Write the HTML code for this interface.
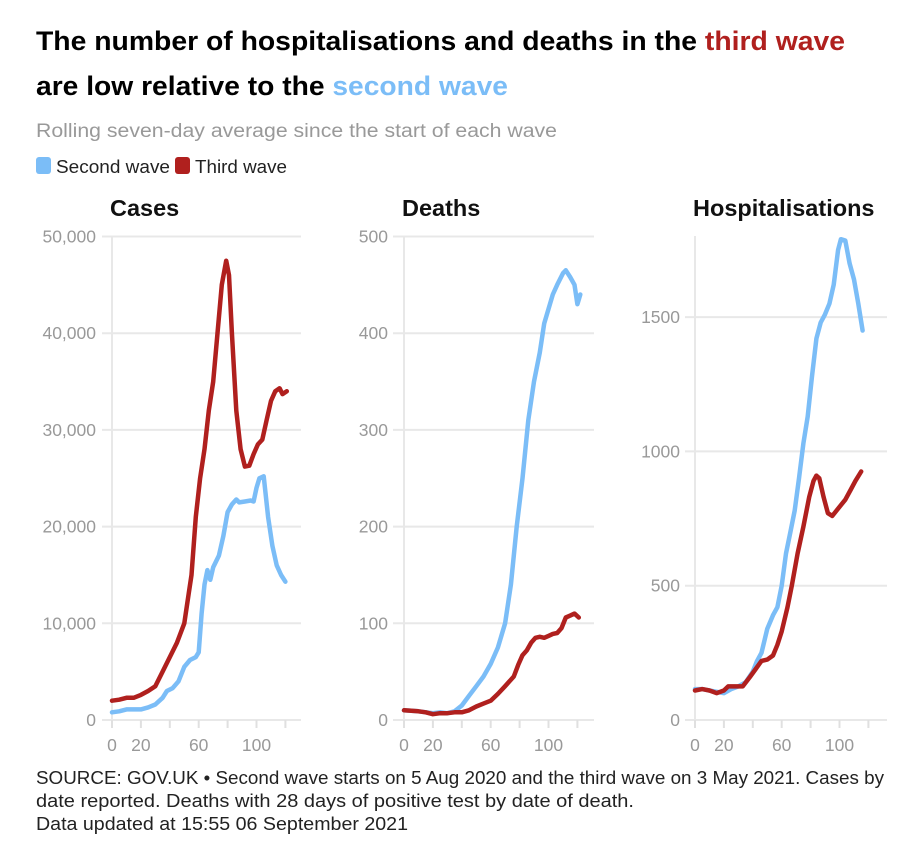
<!DOCTYPE html>
<html><head><meta charset="utf-8"><style>
body{margin:0;background:#fff;font-family:"Liberation Sans",sans-serif;}
svg text{font-family:"Liberation Sans",sans-serif;}
</style></head><body>
<svg id="c" width="924" height="862" xmlns="http://www.w3.org/2000/svg">
<text x="36" y="50" font-size="27" font-weight="bold" fill="#000" textLength="809" lengthAdjust="spacingAndGlyphs">The number of hospitalisations and deaths in the <tspan fill="#b0201e">third wave</tspan></text>
<text x="36" y="95" font-size="27" font-weight="bold" fill="#000" textLength="472" lengthAdjust="spacingAndGlyphs">are low relative to the <tspan fill="#7bbdf7">second wave</tspan></text>
<text x="36" y="137" font-size="19" fill="#999" textLength="521" lengthAdjust="spacingAndGlyphs">Rolling seven-day average since the start of each wave</text>
<g>
<rect x="36" y="157" width="15" height="17" rx="3" fill="#7bbdf7"/>
<text x="56" y="173" font-size="18" fill="#222" textLength="114" lengthAdjust="spacingAndGlyphs">Second wave</text>
<rect x="175" y="157" width="15" height="17" rx="3" fill="#b0201e"/>
<text x="195" y="173" font-size="18" fill="#222" textLength="92" lengthAdjust="spacingAndGlyphs">Third wave</text>
</g>
<text x="36" y="784" font-size="18" fill="#222" textLength="848" lengthAdjust="spacingAndGlyphs">SOURCE: GOV.UK • Second wave starts on 5 Aug 2020 and the third wave on 3 May 2021. Cases by</text>
<text x="36" y="807" font-size="18" fill="#222" textLength="598" lengthAdjust="spacingAndGlyphs">date reported. Deaths with 28 days of positive test by date of death.</text>
<text x="36" y="830" font-size="18" fill="#222" textLength="372" lengthAdjust="spacingAndGlyphs">Data updated at 15:55 06 September 2021</text>
</svg>
<script>
const casesSecondX=[0,5,10,20,25,30,35,38,42,46,50,54,58,60,62,64,66,68,70,74,77,80,83,86,88,92,96,98,100,102,105,108,111,114,117,120];
const casesSecondY=[0.8,0.9,1.1,1.1,1.3,1.6,2.3,3,3.3,4,5.5,6.2,6.5,7,11,14,15.5,14.5,15.8,17,19,21.5,22.3,22.8,22.5,22.6,22.7,22.6,24,25,25.2,21,18,16,15,14.3];
const casesThirdX=[0,5,10,15,20,25,30,35,40,45,50,53,55,58,61,64,67,70,73,76,79,81,83,86,89,92,95,98,101,104,107,110,113,116,118,121];
const casesThirdY=[2,2.1,2.3,2.3,2.6,3,3.5,5,6.5,8,10,13,15,21,25,28,32,35,40,45,47.5,46,40,32,28,26.2,26.3,27.5,28.5,29,31,33,34,34.3,33.7,34];
const deathsSecondX=[0,10,20,25,30,35,40,45,50,55,60,65,70,74,78,82,86,90,94,97,100,103,106,110,112,115,118,120,122];
const deathsSecondY=[10,9,7,8,7,9,15,25,35,45,58,75,100,140,200,250,310,350,380,410,425,440,450,462,465,458,450,430,440];
const deathsThirdX=[0,10,15,20,25,30,35,40,45,50,55,60,65,70,73,76,79,82,85,88,91,94,97,100,103,106,109,112,115,118,121];
const deathsThirdY=[10,9,8,6,7,7,8,8,10,14,17,20,27,35,40,45,57,67,72,80,85,86,85,87,89,90,95,106,108,110,106];
const hospSecondX=[0,5,10,15,20,25,30,35,40,43,46,50,54,57,60,63,66,69,72,75,78,81,84,87,90,93,96,99,101,104,107,110,113,116];
const hospSecondY=[115,115,110,105,100,115,125,140,180,220,250,340,390,420,500,620,700,780,900,1030,1130,1280,1420,1480,1510,1550,1620,1750,1790,1785,1700,1640,1550,1450];
const hospThirdX=[0,5,10,15,20,23,28,33,38,42,46,50,54,57,60,64,67,71,75,79,82,84,86,89,92,95,98,101,104,108,111,115];
const hospThirdY=[110,115,110,100,110,125,125,125,160,190,220,225,240,280,330,420,500,620,720,830,890,910,900,830,770,760,780,800,820,860,890,925];
const casesTicks=[0,10000,20000,30000,40000,50000];
const casesTickLabels=["0","10,000","20,000","30,000","40,000","50,000"];
const deathsTicks=[0,100,200,300,400,500];
const hospTicks=[0,500,1000,1500];
const xTicks=[0,20,40,60,80,100,120];
const xTickLabels=["0","20","","60","","100",""];
const panelTitles=["Cases","Deaths","Hospitalisations"];

const svg=document.getElementById('c');
const NS='http://www.w3.org/2000/svg';
function mk(tag,attrs,parent){const e=document.createElementNS(NS,tag);for(const k in attrs)e.setAttribute(k,attrs[k]);(parent||svg).appendChild(e);return e;}
const BLUE='#7bbdf7',RED='#b0201e';
function panel(cfg){
  const g=mk('g',{});
  
  
  const xs=d=>cfg.x0+d*1.445;
  const ys=v=>720-(v/cfg.ymax)*(720-236.5);
  cfg.ticks.forEach((t,i)=>{
    const y=ys(t);
    const l=mk('line',{x1:cfg.gx0,x2:cfg.gx1,y1:y,y2:y,stroke:'#e8e8e8','stroke-width':2},g);
    
    
    const tx=mk('text',{x:cfg.labelRight,y:y+6,'font-size':17.5,fill:'#999','text-anchor':'end'},g);
    tx.textContent=cfg.labels[i];
    
    
  });
  const ax=mk('line',{x1:cfg.x0,x2:cfg.x0,y1:236,y2:720,stroke:'#e8e8e8','stroke-width':2},g);
  
  
  xTicks.forEach((t,i)=>{
    const x=xs(t);
    const tk=mk('line',{x1:x,x2:x,y1:720,y2:728,stroke:'#e0e0e0','stroke-width':2},g);
    
    
    if(xTickLabels[i]){
      const tx=mk('text',{x:x,y:751,'font-size':17.5,fill:'#999','text-anchor':'middle'},g);
      tx.textContent=xTickLabels[i];
      
      
    }
  });
  const tt=mk('text',{x:cfg.titleX,y:216,'font-size':23.5,'font-weight':'bold',fill:'#111'},g);
  tt.textContent=cfg.title;
  
  
  [[cfg.bx,cfg.by,BLUE,'second-wave-line'],[cfg.rx,cfg.ry,RED,'third-wave-line']].forEach(s=>{
    const d=s[0].map((v,i)=>(i?'L':'M')+xs(v).toFixed(1)+','+ys(s[1][i]).toFixed(1)).join('');
    const p=mk('path',{d:d,fill:'none',stroke:s[2],'stroke-width':4.5,'stroke-linejoin':'round','stroke-linecap':'round'},g);
    
    
  });
}
panel({name:'cases',title:panelTitles[0],titleX:110,x0:112,gx0:102,gx1:301,labelRight:96,ymax:50000,ticks:casesTicks,labels:casesTickLabels,bx:casesSecondX,by:casesSecondY.map(v=>v*1000),rx:casesThirdX,ry:casesThirdY.map(v=>v*1000)});
panel({name:'deaths',title:panelTitles[1],titleX:402,x0:404,gx0:393,gx1:594,labelRight:388,ymax:500,ticks:deathsTicks,labels:deathsTicks.map(String),bx:deathsSecondX,by:deathsSecondY,rx:deathsThirdX,ry:deathsThirdY});
panel({name:'hospitalisations',title:panelTitles[2],titleX:693,x0:695,gx0:685,gx1:887,labelRight:680,ymax:1800,ticks:hospTicks,labels:hospTicks.map(String),bx:hospSecondX,by:hospSecondY,rx:hospThirdX,ry:hospThirdY});
</script>
</body></html>
